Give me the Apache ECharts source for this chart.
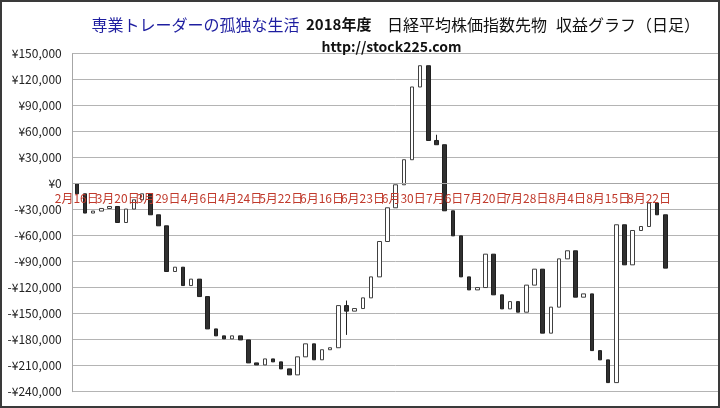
<!DOCTYPE html>
<html>
<head>
<meta charset="utf-8">
<script src="https://cdn.jsdelivr.net/npm/echarts@6/dist/echarts.min.js"></script>
<style>
html,body{margin:0;padding:0;background:#fff;}
#c{width:720px;height:408px;}
</style>
</head>
<body>
<div id="c"></div>
<script>
// Category tick labels (every 5th trading day)
const xLabels = ['2月16日','3月20日','3月29日','4月6日','4月24日','5月22日','6月16日','6月23日','6月30日','7月6日','7月20日','7月28日','8月4日','8月15日','8月22日'];
const categoryCount = 79;

// Daily open / close of cumulative profit (yen)
const opens = [
  0, -11800, -34000, -31700, -28700, -26400, -44900, -29400, -18700, -11800,
  -36000, -48700, -101400, -96400, -117600, -110200, -130300, -167600, -175600, -179100,
  -175600, -180300, -206800, -209100, -202200, -205600, -213700, -220600, -199800, -184800,
  -203200, -191600, -189300, -140700, -147100, -144100, -131800, -107600, -66800, -27900,
  -1400, 27500, 111400, 135900, 49700, 44800, -31400, -60300, -107600, -122600,
  -119900, -81400, -128300, -144500, -136100, -148300, -117100, -98700, -172500, -142500,
  -86800, -77500, -131000, -127200, -192600, -203300, -229500, -47500, -93700, -54100,
  -49500, -22500, -36000
];
const closes = [
  -11800, -34000, -31700, -28700, -26400, -44900, -29400, -18700, -11800, -36000,
  -48700, -101400, -96400, -117600, -110200, -130300, -167600, -175600, -179100, -175600,
  -180300, -206800, -209100, -202200, -205600, -213700, -220600, -199800, -184800, -203200,
  -191600, -189300, -140700, -147100, -144100, -131800, -107600, -66800, -27900, -1400,
  27500, 111400, 135900, 49700, 44800, -31400, -60300, -107600, -122600, -119900,
  -81400, -128300, -144500, -136100, -148300, -117100, -98700, -172500, -142500, -86800,
  -77500, -131000, -127200, -192600, -203300, -229500, -47500, -93700, -54100, -49500,
  -22500, -36000, -97500
];
// Days with visible wicks beyond the body
const wickIdx  = [33, 44];
const wickLow  = [-174500, 44800];
const wickHigh = [-134900, 56300];

// Y axis range
const yMin = -240000, yMax = 150000, yStep = 30000;

// Title texts
const titleBlue = '専業トレーダーの孤独な生活';
const titleYear = '2018年度';
const titleMain = '日経平均株価指数先物';
const titleKind = '収益グラフ（日足）';
const titleUrl = 'http://stock225.com';

const categories = [];
for (let i = 0; i < categoryCount; i++) categories.push(String(i));

const candles = opens.map((o, i) => {
  const c = closes[i];
  let lo = Math.min(o, c), hi = Math.max(o, c);
  const k = wickIdx.indexOf(i);
  if (k >= 0) { lo = wickLow[k]; hi = wickHigh[k]; }
  return [o, c, lo, hi];
});

function yen(v) {
  const s = Math.abs(v).toString().replace(/\B(?=(\d{3})+(?!\d))/g, ',');
  return (v < 0 ? '-¥' : '¥') + s;
}

const gridTop = 53.5, gridBottom = 16.3, H = 408;
const plotH = H - gridTop - gridBottom;
const zeroOffset = plotH * (0 - yMin) / (yMax - yMin);

const FF = 'Noto Sans CJK JP';
function txt(x, y, s, fill, size, weight) {
  return {type: 'text', x: x, y: y, z: 50,
    style: {text: s, fill: fill, fontSize: size, fontWeight: weight || 'normal',
      fontFamily: FF, textVerticalAlign: 'middle', textAlign: 'left'}};
}

const chart = echarts.init(document.getElementById('c'), null, {renderer: 'canvas'});
chart.setOption({
  animation: false,
  backgroundColor: '#fff',
  graphic: [
    txt(91.5, 24.5, titleBlue, '#1e1ea0', 16),
    txt(306, 24.5, titleYear, '#111', 15, 'bold'),
    txt(387, 24.5, titleMain, '#111', 16),
    txt(556, 24.5, titleKind, '#111', 16),
    txt(321.5, 46.5, titleUrl, '#111', 14, 'bold'),
    {
      type: 'rect', z: 100,
      shape: {x: 1, y: 1, width: 718, height: 406},
      style: {fill: 'none', stroke: '#3a3a3a', lineWidth: 2}
    }
  ],
  grid: {left: 72.7, right: 1.5, top: gridTop, bottom: gridBottom, containLabel: false},
  xAxis: {
    type: 'category',
    data: categories,
    position: 'bottom',
    offset: -zeroOffset,
    z: 10,
    boundaryGap: true,
    axisLine: {onZero: false, lineStyle: {color: '#a6a6a6', width: 1}},
    axisTick: {show: false},
    splitLine: {show: false},
    axisLabel: {
      interval: 0,
      margin: 9,
      color: '#c0392b',
      fontSize: 12,
      fontFamily: FF,
      formatter: (v, idx) => (idx % 5 === 0 && xLabels[idx / 5]) ? xLabels[idx / 5] : ''
    }
  },
  yAxis: {
    type: 'value',
    min: yMin, max: yMax, interval: yStep,
    axisLine: {show: true, lineStyle: {color: '#a6a6a6'}},
    axisTick: {show: false},
    splitLine: {lineStyle: {color: '#b4b4b4', width: 1}},
    axisLabel: {
      margin: 11,
      color: '#222',
      fontSize: 12,
      fontFamily: FF,
      formatter: yen
    }
  },
  series: [{
    type: 'candlestick',
    data: candles,
    barWidth: 4,
    z: 2,
    itemStyle: {
      color: '#ffffff',
      color0: '#303030',
      borderColor: '#404040',
      borderColor0: '#202020',
      borderWidth: 1
    }
  }]
});
</script>
</body>
</html>
